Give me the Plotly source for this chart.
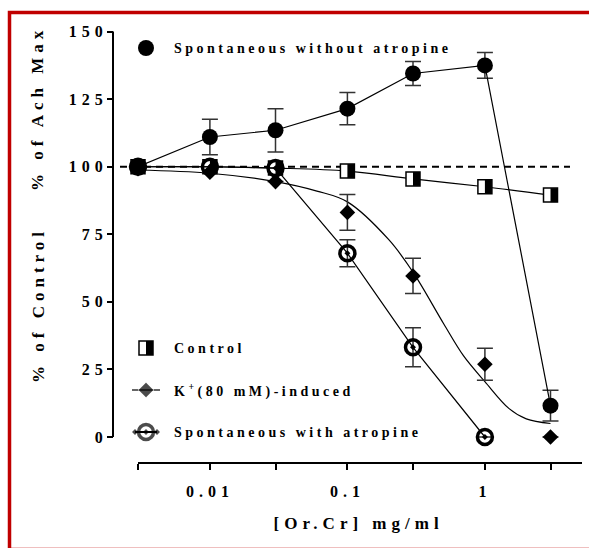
import plotly.graph_objects as go

# ---------------- data ----------------
DOSES = [0.003, 0.01, 0.03, 0.1, 0.3, 1, 3]
SPONT_NO_ATR = [100, 111.0, 113.5, 121.5, 134.5, 137.5, 11.6]
SPONT_NO_ATR_ERR = [0, 6.6, 8.0, 6.0, 4.4, 4.8, 5.7]
CONTROL = [100, 100, 99.5, 98.4, 95.5, 92.6, 89.5]
K_INDUCED = [99.3, 98.0, 94.5, 83.1, 59.6, 26.9, 0]
K_INDUCED_ERR = [0, 0, 0, 6.6, 6.5, 5.9, 0]
ATR_DOSES = [0.003, 0.01, 0.03, 0.1, 0.3, 1]
SPONT_ATR = [100, 100, 99.5, 68.0, 33.2, 0]
SPONT_ATR_ERR = [0, 0, 0, 5.0, 7.2, 0]
# fitted K+ curve
K_FIT_X = [0.003, 0.01, 0.03, 0.06, 0.1, 0.2, 0.3, 0.5, 0.7, 1, 1.5, 2, 3]
K_FIT_Y = [98.8, 97.6, 94.5, 91.0, 87.0, 73.0, 61.0, 42.0, 30.0, 20.5, 10.5, 6.7, 5.0]
REFERENCE_LEVEL = 100

X_MAJOR_TICKS = [0.01, 0.1, 1]
X_MAJOR_LABELS = ["0.01", "0.1", "1"]
X_MINOR_TICKS = [0.003, 0.03, 0.3, 3]
Y_TICKS = [0, 25, 50, 75, 100, 125, 150]

LEGEND_NO_ATR = "Spontaneous without atropine"
LEGEND_CONTROL = "Control"
LEGEND_K = "K<sup>+</sup>(80 mM)-induced"
LEGEND_ATR = "Spontaneous with atropine"
X_TITLE = "[Or.Cr] mg/ml"
Y_TITLE_LOW = "% of Control"
Y_TITLE_HIGH = "% of Ach Max"

# ---------------- layout geometry (pixels) ----------------
W, H = 589, 548
ML, MR, MT, MB = 100, 7, 20, 86
PW, PH = W - ML - MR, H - MT - MB
X_RANGE = [-2.5229, 0.7062]
Y_RANGE = [-9.25, 154.3]
DECADE_PX = (PW - 38) / (X_RANGE[1] - X_RANGE[0])
HALF_SHIFT = 3.5 / DECADE_PX


def px(x):
    return (x - ML) / PW


def py(y):
    return 1 - (y - MT) / PH


FONT = "Liberation Serif"
BLACK = "black"
ERR = "#333333"

fig = go.Figure()

# Control (half filled squares)
fig.add_trace(go.Scatter(
    x=DOSES, y=CONTROL, mode="lines+markers", line=dict(color=BLACK, width=1.2, shape="spline"),
    marker=dict(symbol="square", size=14, color="white", line=dict(color=BLACK, width=1.5)),
    showlegend=False, cliponaxis=False))
fig.add_trace(go.Scatter(
    x=DOSES, y=CONTROL, mode="markers", xaxis="x2",
    marker=dict(symbol="line-ns", size=10, color=BLACK, line=dict(color=BLACK, width=7)),
    showlegend=False, cliponaxis=False))

# K+ fitted curve and points
fig.add_trace(go.Scatter(
    x=K_FIT_X, y=K_FIT_Y, mode="lines", line=dict(color=BLACK, width=1.2, shape="spline", smoothing=1.0),
    showlegend=False))
fig.add_trace(go.Scatter(
    x=DOSES, y=K_INDUCED, mode="markers",
    marker=dict(symbol="diamond", size=12, color=BLACK),
    error_y=dict(type="data", array=K_INDUCED_ERR, color=ERR, thickness=1.5, width=8),
    showlegend=False, cliponaxis=False))

# Spontaneous with atropine
fig.add_trace(go.Scatter(
    x=ATR_DOSES, y=SPONT_ATR, mode="lines+markers", line=dict(color=BLACK, width=1.2),
    marker=dict(symbol="circle-open-dot", size=15, color=BLACK, line=dict(color=BLACK, width=3.5)),
    error_y=dict(type="data", array=SPONT_ATR_ERR, color=ERR, thickness=1.5, width=8),
    showlegend=False, cliponaxis=False))

# Spontaneous without atropine
fig.add_trace(go.Scatter(
    x=DOSES, y=SPONT_NO_ATR, mode="lines+markers", line=dict(color=BLACK, width=1.2),
    marker=dict(symbol="circle", size=16, color=BLACK),
    error_y=dict(type="data", array=SPONT_NO_ATR_ERR, color=ERR, thickness=1.5, width=8),
    showlegend=False, cliponaxis=False))

# ---------------- custom legend glyphs (pixel subplot) ----------------
LEG_X = 146
LEG_ROWS = {"no_atr": 48, "control": 348, "k": 390, "atr": 432}
fig.add_trace(go.Scatter(x=[LEG_X], y=[LEG_ROWS["no_atr"]], mode="markers", xaxis="x3", yaxis="y3",
                         marker=dict(symbol="circle", size=16, color=BLACK), showlegend=False, cliponaxis=False))
fig.add_trace(go.Scatter(x=[LEG_X], y=[LEG_ROWS["control"]], mode="markers", xaxis="x3", yaxis="y3",
                         marker=dict(symbol="square", size=14, color="white", line=dict(color=BLACK, width=1.5)),
                         showlegend=False, cliponaxis=False))
fig.add_trace(go.Scatter(x=[LEG_X + 3.5], y=[LEG_ROWS["control"]], mode="markers", xaxis="x3", yaxis="y3",
                         marker=dict(symbol="line-ns", size=10, color=BLACK, line=dict(color=BLACK, width=7)),
                         showlegend=False, cliponaxis=False))
fig.add_trace(go.Scatter(x=[LEG_X - 14, LEG_X, LEG_X + 14], y=[LEG_ROWS["k"]] * 3, mode="lines+markers",
                         xaxis="x3", yaxis="y3", line=dict(color=BLACK, width=1.2),
                         marker=dict(symbol="diamond", size=[0, 12, 0], color=BLACK),
                         showlegend=False, cliponaxis=False))
fig.add_trace(go.Scatter(x=[LEG_X - 11, LEG_X, LEG_X + 11], y=[LEG_ROWS["atr"]] * 3, mode="lines+markers",
                         xaxis="x3", yaxis="y3", line=dict(color=BLACK, width=2),
                         marker=dict(symbol="circle-open-dot", size=[0, 15, 0], color=BLACK,
                                     line=dict(color=BLACK, width=3.5)),
                         showlegend=False, cliponaxis=False))

# ---------------- annotations ----------------
TXT_X = px(172)
leg_font = dict(family=FONT, size=14, color=BLACK, weight="bold")
ann = []
for key, label in [("no_atr", LEGEND_NO_ATR), ("control", LEGEND_CONTROL), ("k", LEGEND_K), ("atr", LEGEND_ATR)]:
    ann.append(dict(x=TXT_X, y=py(LEG_ROWS[key]), xref="paper", yref="paper", text=label, showarrow=False,
                    xanchor="left", yanchor="middle", align="left", font=leg_font))
title_font = dict(family=FONT, size=17, color=BLACK, weight="bold")
ann.append(dict(x=px(358), y=py(523), xref="paper", yref="paper", text=X_TITLE, showarrow=False,
                xanchor="center", yanchor="middle", font=title_font))
ann.append(dict(x=px(38), y=py(305), xref="paper", yref="paper", text=Y_TITLE_LOW, showarrow=False,
                xanchor="center", yanchor="middle", textangle=-90, font=title_font))
ann.append(dict(x=px(38), y=py(108), xref="paper", yref="paper", text=Y_TITLE_HIGH, showarrow=False,
                xanchor="center", yanchor="middle", textangle=-90, font=title_font))

# ---------------- shapes ----------------
shapes = [
    dict(type="line", xref="paper", yref="y", x0=px(120), x1=px(570), y0=REFERENCE_LEVEL, y1=REFERENCE_LEVEL,
         line=dict(color=BLACK, width=2, dash="7px,5px"), layer="below"),
    dict(type="line", xref="paper", yref="y", x0=px(113), x1=px(113), y0=Y_TICKS[0], y1=Y_TICKS[-1],
         line=dict(color=BLACK, width=2)),
    dict(type="rect", xref="paper", yref="paper", x0=px(9.5), x1=px(600), y0=py(12.5), y1=py(549.5),
         line=dict(color="#c00000", width=3.5)),
]

tick_font = dict(family=FONT, size=16, color=BLACK, weight="bold")
fig.update_layout(
    width=W, height=H, margin=dict(l=ML, r=MR, t=MT, b=MB),
    paper_bgcolor="white", plot_bgcolor="rgba(0,0,0,0)",
    showlegend=False, annotations=ann, shapes=shapes,
    xaxis=dict(type="log", range=X_RANGE, domain=[px(138), 1], anchor="y",
               showline=True, linecolor=BLACK, linewidth=2, showgrid=False, zeroline=False,
               ticks="outside", ticklen=6, tickwidth=2, tickcolor=BLACK,
               tickvals=X_MAJOR_TICKS, ticktext=X_MAJOR_LABELS, tickfont=tick_font, ticklabelstandoff=8,
               minor=dict(tickvals=X_MINOR_TICKS, ticks="outside", ticklen=6, tickwidth=2,
                          tickcolor=BLACK, showgrid=False)),
    xaxis2=dict(type="log", range=[X_RANGE[0] - HALF_SHIFT, X_RANGE[1] - HALF_SHIFT], overlaying="x",
                anchor="y", visible=False),
    yaxis=dict(range=Y_RANGE, domain=[0, 1], anchor="free", position=px(113),
               showline=False, showgrid=False, zeroline=False,
               ticks="outside", ticklen=6, tickwidth=2, tickcolor=BLACK,
               tickvals=Y_TICKS, tickfont=tick_font, ticklabelstandoff=-4),
    xaxis3=dict(range=[ML, W - MR], domain=[0, 1], anchor="y3", visible=False),
    yaxis3=dict(range=[H - MB, MT], domain=[0, 1], anchor="x3", visible=False),
)

POST = """
document.body.style.margin = '0';
document.body.style.padding = '0';
var gd = document.getElementById('{plot_id}');
gd.querySelectorAll('.xtick text, .ytick text').forEach(function(t){ t.style.letterSpacing = '5px'; });
gd.querySelectorAll('.annotation-text').forEach(function(t){
  var s = t.textContent;
  t.style.letterSpacing = (s.indexOf('%') === 0 || s.indexOf('[') === 0) ? '5px' : '3.5px';
});
"""
fig.write_html("out.html", post_script=POST, config={"displayModeBar": False})
